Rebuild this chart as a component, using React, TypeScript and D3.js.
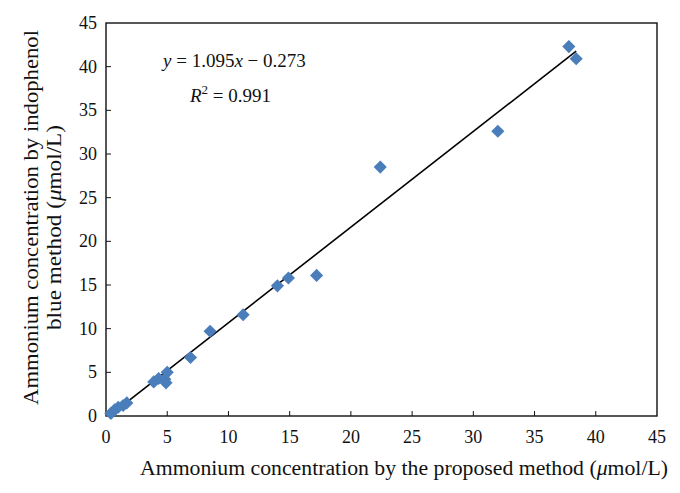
import React from "react";
import * as d3 from "d3";

const proposed = [0.4, 0.7, 1.0, 1.4, 1.7, 3.9, 4.3, 4.8, 5.0, 4.9, 6.9, 8.5, 11.2, 14.0, 14.9, 17.2, 22.4, 32.0, 37.8, 38.4];
const indophenol = [0.3, 0.7, 1.0, 1.2, 1.5, 3.9, 4.3, 4.2, 5.0, 3.8, 6.7, 9.7, 11.6, 14.9, 15.8, 16.1, 28.5, 32.6, 42.3, 40.9];
const xTicks = [0, 5, 10, 15, 20, 25, 30, 35, 40, 45];
const yTicks = [0, 5, 10, 15, 20, 25, 30, 35, 40, 45];
const slope = 1.095;
const intercept = -0.273;

const W = 680, H = 493;
const L = 106, R = 657, T = 23, B = 416;
const FONT = "'Liberation Serif', 'DejaVu Serif', serif";
const BLUE = "#4a7ebb";

export default function App() {
  const x = d3.scaleLinear().domain([0, 45]).range([L, R]);
  const y = d3.scaleLinear().domain([0, 45]).range([B, T]);
  const xMin = d3.min(proposed)!;
  const xMax = d3.max(proposed)!;
  const line = d3.line<number>().x((v) => x(v)).y((v) => y(slope * v + intercept));
  const diamond = d3.symbol().type(d3.symbolDiamond2).size(110)()!;
  return (
    <svg width={W} height={H} style={{ position: "absolute", left: 0, top: 0, background: "#fff" }} fontFamily={FONT}>
      <rect x={L} y={T} width={R - L} height={B - T} fill="none" stroke="#111" strokeWidth={1.4} />
      {xTicks.map((t) => (
        <g key={"x" + t}>
          {t > 0 && t < 45 && <line x1={x(t)} x2={x(t)} y1={B} y2={B - 5} stroke="#111" strokeWidth={1} />}
          <text x={x(t)} y={B + 27} textAnchor="middle" fontSize={18} fill="#111">{t}</text>
        </g>
      ))}
      {yTicks.map((t) => (
        <g key={"y" + t}>
          {t > 0 && t < 45 && <line x1={L} x2={L + 5} y1={y(t)} y2={y(t)} stroke="#111" strokeWidth={1} />}
          <text x={L - 9} y={y(t) + 6} textAnchor="end" fontSize={18} fill="#111">{t}</text>
        </g>
      ))}
      <path d={line([xMin, xMax])!} stroke="#000" strokeWidth={1.6} fill="none" />
      {proposed.map((v, i) => (
        <path key={i} d={diamond} transform={`translate(${x(v)},${y(indophenol[i])})`} fill={BLUE} />
      ))}
      <text x={140} y={475} fontSize={20} fill="#111" textLength={528} lengthAdjust="spacingAndGlyphs">
        Ammonium concentration by the proposed method (<tspan fontStyle="italic">μ</tspan>mol/L)
      </text>
      <g transform="rotate(-90)">
        <text x={-405} y={38} fontSize={20} fill="#111" textLength={375} lengthAdjust="spacingAndGlyphs">
          Ammonium concentration by indophenol
        </text>
        <text x={-330} y={61} fontSize={20} fill="#111" textLength={205} lengthAdjust="spacingAndGlyphs">
          blue method (<tspan fontStyle="italic">μ</tspan>mol/L)
        </text>
      </g>
      <text x={163} y={67} fontSize={19} fill="#111">
        <tspan fontStyle="italic">y</tspan> = 1.095<tspan fontStyle="italic">x</tspan> − 0.273
      </text>
      <text x={190} y={102} fontSize={19} fill="#111">
        <tspan fontStyle="italic">R</tspan><tspan fontSize={13} dy={-8}>2</tspan><tspan dy={8}> = 0.991</tspan>
      </text>
    </svg>
  );
}
